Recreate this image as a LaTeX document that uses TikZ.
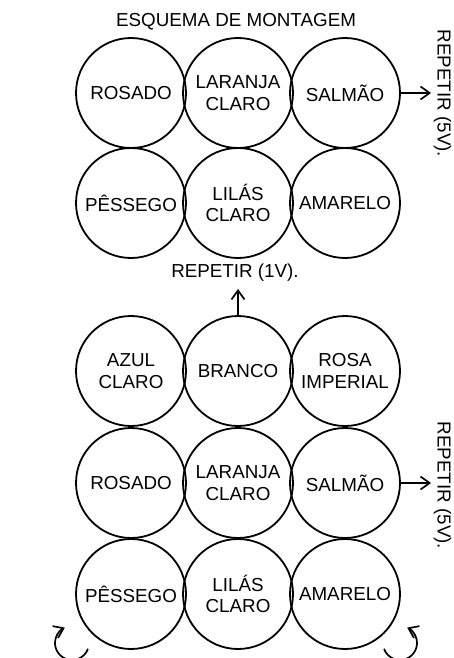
\documentclass[tikz,border=0pt]{standalone}
\usepackage{fontspec}
\setmainfont{Liberation Sans}
\usetikzlibrary{arrows.meta}
\begin{document}
\begin{tikzpicture}[x=1pt,y=-1pt,
  circ/.style={draw, line width=1.8pt, circle, minimum size=110pt, inner sep=0pt,
    align=center, font=\fontsize{18.8}{21.8}\selectfont},
  lbl/.style={inner sep=0pt, font=\fontsize{18.8}{21.8}\selectfont},
  arr/.style={line width=1.7pt, -{Straight Barb[length=9pt,width=13pt]}}]
\useasboundingbox[fill=white] (0,0) rectangle (453,658);
\clip (0,0) rectangle (453,658);

\node[lbl] (title) at (236,22) {ESQUEMA DE MONTAGEM};

% upper block
\node[circ] (a11) at (131,93) {ROSADO};
\node[circ] (a12) at (238,93) {LARANJA\\CLARO};
\node[circ] (a13) at (345,93) {SALMÃO};
\node[circ] (a21) at (131,203) {PÊSSEGO};
\node[circ] (a22) at (238,203) {LILÁS\\CLARO};
\node[circ] (a23) at (345,203) {AMARELO};

\node[lbl] (rep1) at (235,273) {REPETIR (1V).};

% lower block
\node[circ] (b11) at (131,371) {AZUL\\CLARO};
\node[circ] (b12) at (238,371) {BRANCO};
\node[circ] (b13) at (345,371) {ROSA\\IMPERIAL};
\node[circ] (b21) at (131,483) {ROSADO};
\node[circ] (b22) at (238,483) {LARANJA\\CLARO};
\node[circ] (b23) at (345,483) {SALMÃO};
\node[circ] (b31) at (131,594) {PÊSSEGO};
\node[circ] (b32) at (238,594) {LILÁS\\CLARO};
\node[circ] (b33) at (345,594) {AMARELO};

% side labels
\node[lbl, rotate=-90] (rep5a) at (442.5,93.5) {REPETIR (5V).};
\node[lbl, rotate=-90] (rep5b) at (442.5,485.5) {REPETIR (5V).};

% arrows
\coordinate (e1) at (431,93);
\coordinate (e2) at (431,483);
\coordinate (e3) at (238,289);
\draw[arr] (a13.east) -- (e1);
\draw[arr] (b23.east) -- (e2);
\draw[arr] (b12.north) -- (e3);

% curled arrows at the bottom
\draw[arr] (72,643) ++(20:17) arc[start angle=20, end angle=245, radius=17];
\draw[arr] (400,643) ++(160:17) arc[start angle=160, end angle=-65, radius=17];
\end{tikzpicture}
\end{document}
